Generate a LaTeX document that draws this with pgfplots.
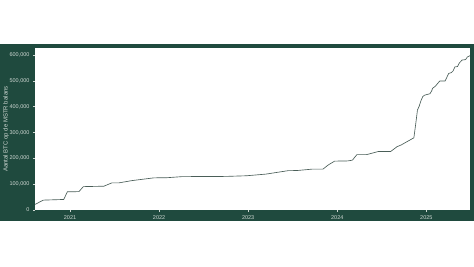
\documentclass[border=0pt]{standalone}
\usepackage{pgfplots}
\pgfplotsset{compat=1.18}
\usepackage{fontspec}
\setmainfont{Liberation Sans}
\definecolor{panel}{HTML}{1F4A3E}
\definecolor{txt}{HTML}{CFD8D3}
\definecolor{ln}{HTML}{4A5E58}
\begin{document}
\begin{tikzpicture}[x=1pt,y=1pt]
\useasboundingbox (0,0) rectangle (474,266);
\fill[white] (0,0) rectangle (474,266);
\fill[panel] (0,45) rectangle (474,222);
\begin{axis}[
  at={(35pt,56pt)}, anchor=south west,
  scale only axis, width=435pt, height=162pt,
  xmin=2020.607, xmax=2025.49, ymin=0, ymax=627000,
  axis background/.style={fill=white},
  axis line style={draw=none},
  xtick={2021,2022,2023,2024,2025},
  xticklabels={2021,2022,2023,2024,2025},
  ytick={0,100000,200000,300000,400000,500000,600000},
  scaled y ticks=false,
  yticklabel style={/pgf/number format/fixed, /pgf/number format/1000 sep={,}, /pgf/number format/assume math mode=true},
  tick label style={font=\fontsize{5.5}{6}\selectfont, color=txt},
  tick style={color=txt, line width=0.4pt},
  major tick length=2pt, tick align=outside,
  xtick pos=bottom, ytick pos=left,
  ylabel={Aantal BTC op de MSTR balans},
  every axis y label/.style={at={(axis description cs:-0.0667,0.5)}, rotate=90, anchor=center, font=\fontsize{6}{7}\selectfont, color=txt},
  clip=true,
]
\addplot[color=ln, line width=0.65pt] coordinates {
(2020.607,21454)
(2020.70,38250)
(2020.93,40824)
(2020.97,70470)
(2021.10,71079)
(2021.15,90531)
(2021.38,92079)
(2021.47,105085)
(2021.55,105085)
(2021.70,114042)
(2021.94,124391)
(2022.09,125051)
(2022.26,129218)
(2022.75,130000)
(2022.98,132500)
(2023.20,138955)
(2023.45,152333)
(2023.55,152800)
(2023.72,158245)
(2023.84,158400)
(2023.90,174530)
(2023.97,189150)
(2024.12,190000)
(2024.17,193000)
(2024.22,214246)
(2024.33,214400)
(2024.46,226331)
(2024.60,226500)
(2024.67,244800)
(2024.72,252220)
(2024.86,279420)
(2024.88,331200)
(2024.90,386700)
(2024.92,402100)
(2024.94,423650)
(2024.96,439000)
(2024.98,444262)
(2025.00,446400)
(2025.04,450000)
(2025.06,461000)
(2025.07,471107)
(2025.10,478740)
(2025.15,499096)
(2025.21,499226)
(2025.22,506137)
(2025.25,528185)
(2025.28,531644)
(2025.30,538200)
(2025.32,553555)
(2025.35,555450)
(2025.37,568840)
(2025.39,576230)
(2025.40,580250)
(2025.44,582000)
(2025.46,592100)
(2025.49,597325)
};
\end{axis}
\end{tikzpicture}
\end{document}
